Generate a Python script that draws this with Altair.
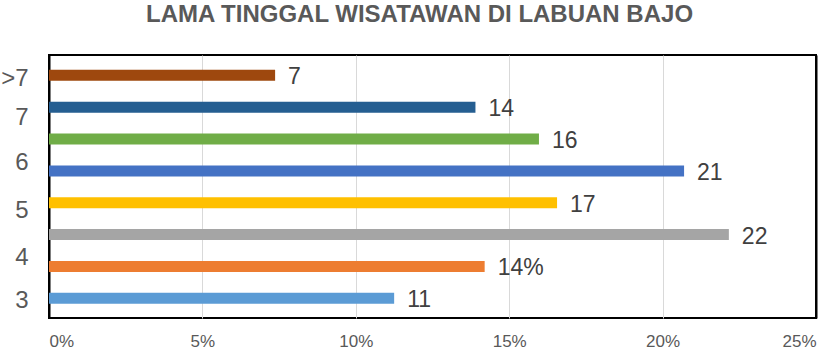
import altair as alt
import pandas as pd

# Y-axis category labels (bottom to top) and where they sit on the bar-index scale
categories = ["3", "4", "5", "6", "7", ">7"]
category_pos = [0, 1.33, 2.81, 4.32, 5.73, 6.97]
# Bars, bottom to top
bar_index = [0, 1, 2, 3, 4, 5, 6, 7]
values = [0.1125, 0.142, 0.2216, 0.1656, 0.207, 0.1597, 0.139, 0.0737]
labels = ["11", "14%", "22", "17", "21", "16", "14", "7"]
colors = ["#5B9BD5", "#ED7D31", "#A5A5A5", "#FFC000", "#4472C4", "#70AD47", "#255E91", "#9E480E"]
x_ticks = [0, 0.05, 0.10, 0.15, 0.20, 0.25]

df = pd.DataFrame({"pos": bar_index, "value": values, "label": labels, "color": colors})

FONT = "Liberation Sans, Arial, sans-serif"

label_expr = "[%s][indexof([%s], datum.value)]" % (
    ",".join("'%s'" % c for c in categories),
    ",".join(str(p) for p in category_pos),
)
edge_test = "datum.value <= 0 || datum.value >= 0.25"

x_enc = alt.X(
    "value:Q",
    scale=alt.Scale(domain=[0, 0.25], nice=False),
    axis=alt.Axis(
        values=x_ticks, format=".0%", title=None, grid=True,
        gridColor={"condition": {"test": edge_test, "value": "black"}, "value": "#D9D9D9"},
        gridWidth={"condition": {"test": edge_test, "value": 2}, "value": 1},
        domain=False, ticks=False, labelFontSize=17, labelFont=FONT,
        labelColor="#595959", labelPadding=15,
    ),
)
y_enc = alt.Y(
    "pos:Q",
    scale=alt.Scale(domain=[-0.46, 7.48], nice=False, zero=False),
    axis=alt.Axis(
        values=category_pos, labelExpr=label_expr, title=None, grid=False,
        domain=False, ticks=False, labelFontSize=24, labelFont=FONT,
        labelColor="#595959", labelPadding=21, labelBaseline="alphabetic", labelOffset=9,
    ),
)

bars = alt.Chart(df).mark_bar(orient="horizontal", size=11).encode(
    x=x_enc,
    y=y_enc,
    color=alt.Color("color:N", scale=None),
)

text = alt.Chart(df).mark_text(
    align="left", baseline="alphabetic", dx=13, dy=9, fontSize=23, font=FONT, color="#404040"
).encode(
    x=alt.X("value:Q"),
    y=alt.Y("pos:Q"),
    text="label:N",
)

chart = (bars + text).properties(
    width=767,
    height=263,
    autosize=alt.AutoSizeParams(type="none"),
    padding={"left": 49, "top": 55, "right": 19, "bottom": 37},
    background="white",
    title=alt.TitleParams(
        "LAMA TINGGAL WISATAWAN DI LABUAN BAJO",
        fontSize=24, font=FONT, fontWeight="bold", color="#595959",
        anchor="middle", offset=28, dx=-13,
    ),
).configure_view(stroke="black", strokeWidth=2)

chart.save("out.html", embed_options={"renderer": "svg", "actions": False})
